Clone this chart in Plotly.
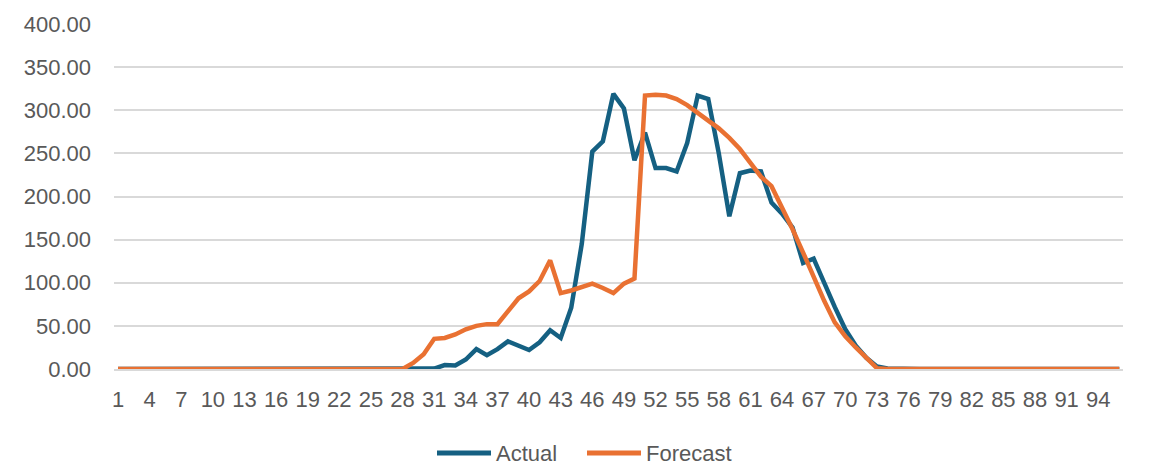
import plotly.graph_objects as go

# Interval index 1..96
periods = list(range(1, 97))

actual = (
    [0] * 27
    + [0, 0, 0, 0.5, 4.5, 4, 11, 23, 16, 23, 32, 27, 22, 31, 45, 36, 71, 145,
       252, 264, 319, 302, 242, 274, 233, 233, 229, 262, 317, 313, 250, 177,
       227, 230, 229, 193, 180, 164, 123, 128, 99, 72, 46, 27, 13, 3, 0.5]
    + [0] * 22
)

forecast = (
    [0] * 27
    + [0, 7, 17, 35, 36, 40, 46, 50, 52, 52, 67, 82, 90, 102, 126, 88, 91, 95,
       99, 94, 88, 99, 105, 317, 318, 317, 313, 306, 297, 288, 279, 268, 255,
       239, 223, 212, 188, 162, 135, 106, 79, 54, 38, 25, 13, 1, 0]
    + [0] * 22
)

x_ticks = list(range(1, 97, 3))

BLUE = "#156082"
ORANGE = "#E97132"
TEXT = "#595959"
GRID = "#D9D9D9"
FONT = "Liberation Sans"
FS = 22

W, H = 1153, 465
ML, MR, MT, MB = 114, 30, 20, 96

fig = go.Figure()
fig.add_trace(go.Scatter(x=periods, y=actual, mode="lines", name="Actual",
                         line=dict(color=BLUE, width=4.5), showlegend=False))
fig.add_trace(go.Scatter(x=periods, y=forecast, mode="lines", name="Forecast",
                         line=dict(color=ORANGE, width=4.5), showlegend=False))

# Legend drawn below the plot: long line swatch followed by label
plot_w = W - ML - MR
plot_h = H - MT - MB

def px_x(p):
    return (p - ML) / plot_w

def px_y(p):
    return (H - MB - p) / plot_h

legend_items = [("Actual", BLUE, 437, 491, 494), ("Forecast", ORANGE, 587, 641, 644)]
legend_y = 454
for label, color, x0, x1, tx in legend_items:
    fig.add_shape(type="line", xref="paper", yref="paper",
                  x0=px_x(x0), x1=px_x(x1), y0=px_y(legend_y), y1=px_y(legend_y),
                  line=dict(color=color, width=5))
    fig.add_annotation(text=label, xref="paper", yref="paper",
                       x=px_x(tx), y=px_y(legend_y), xanchor="left", yanchor="middle",
                       showarrow=False, font=dict(family=FONT, size=FS, color=TEXT))

fig.update_layout(
    width=W, height=H,
    margin=dict(l=ML, r=MR, t=MT, b=MB),
    paper_bgcolor="white", plot_bgcolor="white",
    font=dict(family=FONT, size=FS, color=TEXT),
    xaxis=dict(
        range=[0.62, 96.35],
        tickmode="array", tickvals=x_ticks, ticktext=[str(v) for v in x_ticks],
        showgrid=False, zeroline=False,
        showline=True, linecolor=GRID, linewidth=1.5,
        ticks="", ticklabelstandoff=10,
        tickfont=dict(family=FONT, size=FS, color=TEXT),
    ),
    yaxis=dict(
        range=[0, 400], dtick=50, tickformat=".2f",
        showgrid=True, gridcolor=GRID, gridwidth=1.5,
        zeroline=False, showline=False, ticks="",
        ticklabelstandoff=22,
        tickfont=dict(family=FONT, size=FS, color=TEXT),
    ),
)

fig.write_html("out.html")
